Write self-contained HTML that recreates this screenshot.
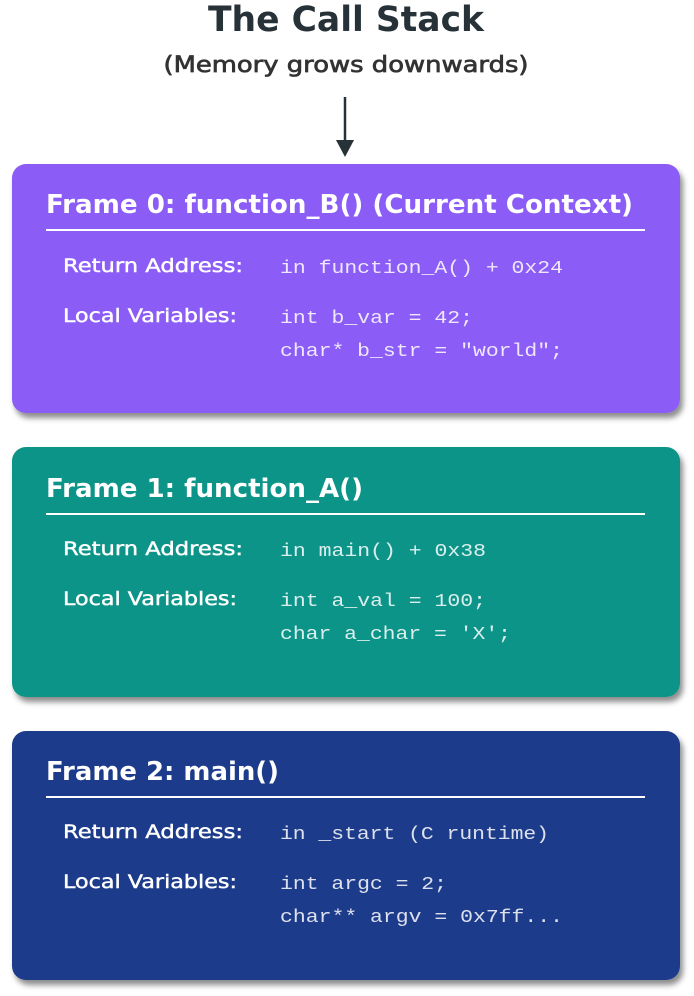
<!DOCTYPE html>
<html><head><meta charset="utf-8"><style>
html,body{margin:0;padding:0;background:#fff;}
svg{display:block}
.t{font-family:"DejaVu Sans","Liberation Sans",sans-serif;font-weight:bold;fill:#fff}
.l{font-family:"DejaVu Sans","Liberation Sans",sans-serif;font-size:19px;fill:#fff;stroke:#fff;stroke-width:0.45}
.m{font-family:"Liberation Mono",monospace;font-size:18px;fill:#fff;fill-opacity:0.85}
</style></head><body>
<svg width="694" height="996" viewBox="0 0 694 996" xmlns="http://www.w3.org/2000/svg">
<defs><filter id="sh" x="-5%" y="-5%" width="115%" height="120%"><feDropShadow dx="3" dy="5" stdDeviation="3" flood-color="#000" flood-opacity="0.45"/></filter></defs>
<text x="346" y="31" text-anchor="middle" font-family="DejaVu Sans,Liberation Sans,sans-serif" font-weight="bold" font-size="35" fill="#263238" textLength="276" lengthAdjust="spacingAndGlyphs">The Call Stack</text>
<text x="346" y="72" text-anchor="middle" font-family="DejaVu Sans,Liberation Sans,sans-serif" font-size="22" fill="#333" stroke="#333" stroke-width="0.7" textLength="365" lengthAdjust="spacingAndGlyphs">(Memory grows downwards)</text>
<line x1="345" y1="97" x2="345" y2="142" stroke="#263238" stroke-width="2.5"/>
<polygon points="336,140 354,140 345,157" fill="#263238"/>

<rect x="12" y="164" width="668" height="249" rx="14" fill="#8b5cf6" filter="url(#sh)"/>
<text class="t" x="46" y="213" font-size="26" textLength="587" lengthAdjust="spacingAndGlyphs">Frame 0: function_B() (Current Context)</text>
<line x1="46" y1="230" x2="645" y2="230" stroke="#fff" stroke-width="2"/>
<text class="l" x="63" y="272" textLength="180" lengthAdjust="spacingAndGlyphs">Return Address:</text>
<text class="m" x="280" y="273" textLength="283" lengthAdjust="spacingAndGlyphs">in function_A() + 0x24</text>
<text class="l" x="63" y="322" textLength="174" lengthAdjust="spacingAndGlyphs">Local Variables:</text>
<text class="m" x="280" y="323" textLength="193" lengthAdjust="spacingAndGlyphs">int b_var = 42;</text>
<text class="m" x="280" y="356" textLength="283" lengthAdjust="spacingAndGlyphs">char* b_str = "world";</text>

<rect x="12" y="447" width="668" height="250" rx="14" fill="#0d9488" filter="url(#sh)"/>
<text class="t" x="46" y="497" font-size="26" textLength="317" lengthAdjust="spacingAndGlyphs">Frame 1: function_A()</text>
<line x1="46" y1="514" x2="645" y2="514" stroke="#fff" stroke-width="2"/>
<text class="l" x="63" y="555" textLength="180" lengthAdjust="spacingAndGlyphs">Return Address:</text>
<text class="m" x="280" y="556" textLength="206" lengthAdjust="spacingAndGlyphs">in main() + 0x38</text>
<text class="l" x="63" y="605" textLength="174" lengthAdjust="spacingAndGlyphs">Local Variables:</text>
<text class="m" x="280" y="606" textLength="206" lengthAdjust="spacingAndGlyphs">int a_val = 100;</text>
<text class="m" x="280" y="639" textLength="231" lengthAdjust="spacingAndGlyphs">char a_char = 'X';</text>

<rect x="12" y="731" width="668" height="249" rx="14" fill="#1e3a8a" filter="url(#sh)"/>
<text class="t" x="46" y="780" font-size="26" textLength="233" lengthAdjust="spacingAndGlyphs">Frame 2: main()</text>
<line x1="46" y1="797" x2="645" y2="797" stroke="#fff" stroke-width="2"/>
<text class="l" x="63" y="838" textLength="180" lengthAdjust="spacingAndGlyphs">Return Address:</text>
<text class="m" x="280" y="839" textLength="269" lengthAdjust="spacingAndGlyphs">in _start (C runtime)</text>
<text class="l" x="63" y="888" textLength="174" lengthAdjust="spacingAndGlyphs">Local Variables:</text>
<text class="m" x="280" y="889" textLength="167" lengthAdjust="spacingAndGlyphs">int argc = 2;</text>
<text class="m" x="280" y="922" textLength="283" lengthAdjust="spacingAndGlyphs">char** argv = 0x7ff...</text>
</svg>
</body></html>
